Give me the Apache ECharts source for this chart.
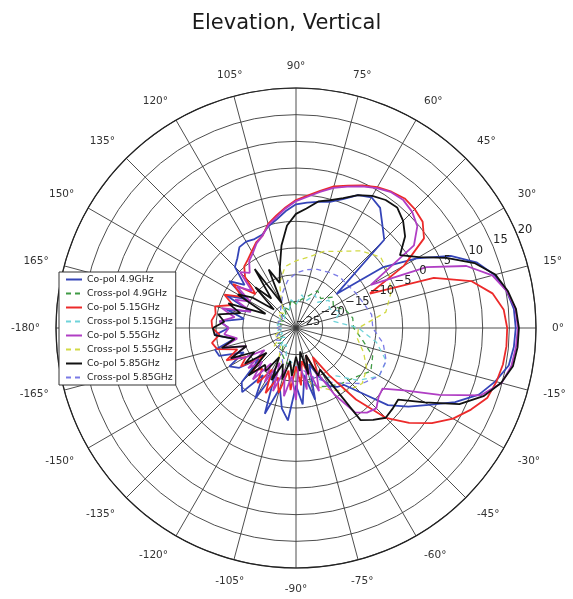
<!DOCTYPE html>
<html>
<head>
<meta charset="utf-8">
<script src="https://cdn.jsdelivr.net/npm/echarts@6/dist/echarts.min.js"></script>
<style>
  html, body { margin: 0; padding: 0; background: #fff; }
  #chart { width: 573px; height: 599px; }
</style>
</head>
<body>
<div id="chart"></div>
<script>
// angles (deg) for co-pol traces, -180..180
const coAngles = [
  -180, -175, -170, -165, -160, -155, -150, -145, -140, -135, -130, -125, -120,
  -115, -110, -105, -100, -95, -90, -85, -80, -75, -70, -65, -60, -55, -50, -45,
  -40, -35, -30, -25, -20, -15, -10, -5, 0, 5, 10, 15, 20, 25, 30, 35, 40, 45,
  50, 55, 60, 65, 70, 75, 80, 85, 90, 95, 100, 105, 110, 115, 120, 125, 130,
  135, 140, 145, 150, 155, 160, 165, 170, 175, 180
];
// angles (deg) for cross-pol traces
const xAngles = [
  -180, -170, -160, -150, -140, -130, -120, -110, -100, -90, -80, -70, -60, -50,
  -40, -30, -20, -10, 0, 10, 20, 30, 40, 50, 60, 70, 80, 90, 100, 110, 120, 130,
  140, 150, 160, 170, 180
];

// gain (dB)
const coPol49 = [
  -12.4, -9.7, -13.3, -9.3, -9.7, -14.2, -10.6, -12, -16, -10.6, -9.3, -14.2, -9.7,
  -16, -7.9, -13.3, -9.7, -7.6, -14.2, -10.6, -16, -11.1, -17.8, -15.1, -12.4, -11.5, -11.1, -7.9,
  -2.5, 0.7, 3.8, 7.9, 11.5, 13.7, 15.5, 16, 16.2, 16, 15.1, 13.5, 11, 7, 1.1, -5.2, -15.1, -1.6,
  0.2, 2.5, 3.3, 2.5, 0.7, -0.5, -1, -1.4, -1.8, -3, -4.3, -5.2, -6.4, -6.6, -6.3, -6.5, -7.9,
  -8.8, -12.4, -9.7, -14.2, -10.6, -16, -11.5, -15.1, -10.6, -12.4
];
const coPol515 = [
  -9.3, -10.6, -9, -9.7, -13.3, -10.6, -14.2, -12.4, -16.9, -13.3, -15.1, -12.4, -16,
  -11.5, -15.1, -12.4, -16.9, -13.3, -17.8, -14.2, -18.7, -16, -19.6, -15.1, -18.7, -14.2, -7.5, -1.2,
  2.7, 6.1, 9, 11.2, 13.2, 13.9, 14.4, 14.6, 14.6, 14.1, 12.4, 9, 2.5, -9.7, -1.6, 4.3, 6, 6.5,
  6.7, 6.2, 5.5, 4.5, 3.4, 2.5, 1.1, -0.1, -1, -2.3, -3.6, -4.8, -6.6, -7.3, -8.4, -9.3, -9.9,
  -11.5, -15.1, -10.6, -13.3, -10.2, -12.4, -9.3, -9.7, -9.1, -9.3
];
const coPol555 = [
  -12.4, -11.5, -13.8, -10.6, -15.1, -11.5, -13.8, -17.8, -13.3, -16, -12.4, -16.9, -13.3,
  -17.8, -12.4, -16.9, -12, -16, -11.5, -18.7, -13.3, -17.8, -12.4, -16, -10.6, -5.7, -4.3, -3.7,
  -4.8, -5.2, -1.6, 4.7, 11.9, 14.9, 16, 16.4, 16.6, 16.3, 15.1, 13.1, 9, 2, -8.8, 2, 4.7, 5.8,
  6.3, 6.1, 5.3, 4.3, 3.2, 2.2, 0.9, -0.3, -1.2, -2.5, -3.9, -5, -6.6, -7.5, -8.8, -9.7, -11.5,
  -10.2, -14.2, -11.5, -15.1, -12.4, -16, -10.6, -13.3, -10.6, -12.4
];
const coPol585 = [
  -9.4, -9.7, -13.3, -10.6, -15.1, -11.5, -16, -13.3, -17.8, -12.4, -16, -15.1, -18.7,
  -14.2, -17.8, -15.1, -18.7, -16, -19.6, -16.9, -20.5, -16, -19.6, -15.1, -16, -3.9, -2.5, -1.2,
  -1.4, -1.6, 2.9, 8.8, 12.4, 14.8, 16.3, 16.7, 16.8, 16.4, 15.3, 13.7, 10.6, 6.1, 1.6, -1.2, 1.7, 3.4,
  4.5, 4.3, 3.6, 2.5, 0.9, -0.2, -0.9, -2.5, -3.6, -5.7, -9.3, -13.3, -16, -12.9, -19.6, -11.5, -17.8,
  -14.2, -19.6, -15.1, -12.4, -18.7, -11.5, -14.2, -10.2, -11.5, -9.4
];
const crossPol49 = [
  -21.4, -22.3, -21.4, -22.3, -20.5, -21.4, -19.6, -18.7, -17.8, -16, -15.1, -13.3, -12.4, -11.5,
  -10.6, -8.8, -9.7, -12.4, -14.2, -14.2, -15.1, -16.9, -16, -17.8, -16.9, -18.7, -19.6, -20.5, -19.6, -21.4, -20.5, -22.3,
  -21.4, -22.3, -21.4, -22.3, -21.4
];
const crossPol515 = [
  -22.3, -21.4, -22.3, -21.4, -22.3, -20.5, -21.4, -19.6, -18.7, -17.8, -16, -15.1, -14.2, -13.3,
  -9.7, -7, -7, -9.7, -13.3, -17.8, -16, -17.8, -16.9, -18.7, -17.8, -19.6, -18.7, -20.5, -19.6, -21.4, -20.5, -21.4,
  -22.3, -21.4, -22.3, -21.4, -22.3
];
const crossPol555 = [
  -21.4, -22.3, -20.5, -21.4, -19.6, -20.5, -18.7, -17.8, -17.8, -16.9, -15.1, -13.3, -11.5, -9.7,
  -8.8, -9.7, -11.5, -13.3, -13.3, -7.9, -6.1, -4.8, -4.3, -6.1, -8.4, -9.7, -11.5, -12.4, -13.3, -16, -19.6, -21.4,
  -20.5, -22.3, -21.4, -22.3, -21.4
];
const crossPol585 = [
  -21.4, -22.3, -21.4, -20.5, -21.4, -19.6, -19.6, -17.8, -17.8, -17.8, -16.9, -15.1, -13.3, -11.5,
  -8.8, -7, -7, -8.4, -10.6, -10.6, -11.5, -12, -12.4, -12.4, -12.9, -13.3, -13.9, -14.7, -16, -17.8, -19.6, -20.5,
  -21.4, -22.3, -21.4, -22.3, -21.4
];

const seriesNames = [
  'Co-pol 4.9GHz', 'Cross-pol 4.9GHz', 'Co-pol 5.15GHz', 'Cross-pol 5.15GHz',
  'Co-pol 5.55GHz', 'Cross-pol 5.55GHz', 'Co-pol 5.85GHz', 'Cross-pol 5.85GHz'
];
const seriesValues = [coPol49, crossPol49, coPol515, crossPol515, coPol555, crossPol555, coPol585, crossPol585];
const seriesColors = ['#3545b8', '#3f9a45', '#ec2a2a', '#6fd3da', '#b03ec4', '#d2da45', '#111111', '#7a7ae6'];

const radialTicks = [-25, 20, 5];
const center = [296, 328];
const radius = 240;

const minus = (v) => String(v).replace('-', '\u2212');

const series = seriesNames.map((name, i) => {
  const cross = name.startsWith('Cross');
  const angles = cross ? xAngles : coAngles;
  return {
    name: name,
    type: 'line',
    coordinateSystem: 'polar',
    polarIndex: 0,
    symbol: 'none',
    smooth: false,
    z: cross ? 2 : 3,
    lineStyle: {
      color: seriesColors[i],
      width: cross ? 1.3 : 1.8,
      type: cross ? [5, 4] : 'solid'
    },
    itemStyle: { color: seriesColors[i] },
    data: seriesValues[i].map((v, k) => [v, angles[k]])
  };
});

const chart = echarts.init(document.getElementById('chart'));
chart.setOption({
  animation: false,
  backgroundColor: '#fff',
  title: {
    text: 'Elevation, Vertical',
    left: 'center',
    top: 8,
    textStyle: { fontFamily: 'DejaVu Sans', fontSize: 21, fontWeight: 'normal', color: '#1a1a1a' }
  },
  legend: {
    orient: 'vertical',
    left: 59,
    top: 272,
    data: seriesNames,
    backgroundColor: '#fff',
    borderColor: '#333',
    borderWidth: 1,
    borderRadius: 0,
    padding: [3, 3, 3, 6],
    itemWidth: 16,
    itemHeight: 8,
    itemGap: 5,
    itemStyle: { opacity: 0 },
    textStyle: { fontFamily: 'DejaVu Sans', fontSize: 9.3, color: '#222' }
  },
  polar: [
    { center: center, radius: radius },
    { center: center, radius: radius }
  ],
  angleAxis: [
    {
      polarIndex: 0,
      type: 'value',
      min: -180,
      max: 180,
      interval: 15,
      startAngle: 180,
      clockwise: false,
      axisLine: { lineStyle: { color: '#222', width: 1.2 } },
      axisTick: { show: false },
      splitLine: { show: true, lineStyle: { color: '#3a3a3a', width: 0.9 } },
      axisLabel: {
        margin: 16,
        fontFamily: 'DejaVu Sans',
        fontSize: 10.5,
        color: '#333',
        formatter: (v) => (v === 180 ? '' : v + '\u00b0')
      }
    },
    {
      polarIndex: 1,
      type: 'value',
      min: 0,
      max: 360,
      startAngle: 22.5,
      show: false
    }
  ],
  radiusAxis: [
    {
      polarIndex: 0,
      type: 'value',
      min: radialTicks[0],
      max: radialTicks[1],
      interval: radialTicks[2],
      axisLine: { show: false },
      axisTick: { show: false },
      axisLabel: { show: false },
      splitLine: { show: true, lineStyle: { color: '#3a3a3a', width: 0.9 } }
    },
    {
      polarIndex: 1,
      type: 'value',
      min: radialTicks[0],
      max: radialTicks[1],
      interval: radialTicks[2],
      z: 10,
      axisLine: { show: false },
      axisTick: { show: false },
      splitLine: { show: false },
      axisLabel: {
        margin: 0,
        align: 'left',
        verticalAlign: 'bottom',
        fontFamily: 'DejaVu Sans',
        fontSize: 11.5,
        color: '#222',
        formatter: (v) => minus(v)
      }
    }
  ],
  series: series
});
</script>
</body>
</html>
